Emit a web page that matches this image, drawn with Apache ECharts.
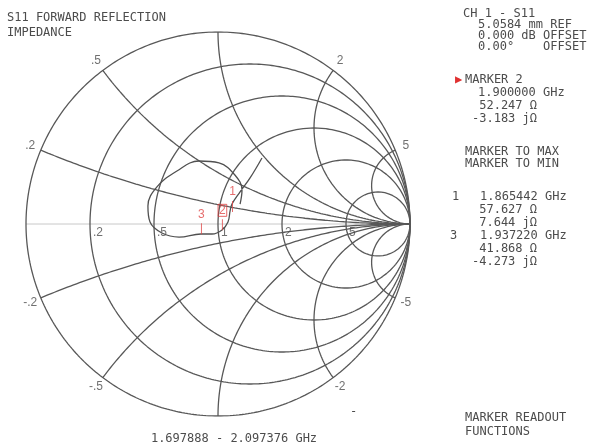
<!DOCTYPE html>
<html><head><meta charset="utf-8">
<script src="https://cdn.jsdelivr.net/npm/echarts@6/dist/echarts.min.js"></script>
<style>html,body{margin:0;padding:0;background:#fff}#c{width:593px;height:448px}</style>
</head><body><div id="c"></div>
<script>
// ---- Smith chart grid values ----
const resistanceValues = [0, 0.2, 0.5, 1, 2, 5];
const reactanceValues = [0.2, 0.5, 1, 2, 5, -0.2, -0.5, -1, -2, -5];
const resistanceLabels = ['.2', '.5', '1', '2', '5'];
const reactanceLabels = ['.2', '.5', '1', '2', '5', '-.2', '-.5', '-1', '-2', '-5'];
const traceRe = [0.229, 0.167, 0.115, 0.073, 0.063, 0.052, 0.021, -0.031, -0.089, -0.203, -0.292, -0.354, -0.365, -0.318, -0.214, -0.099, 0.005, 0.088, 0.125, 0.115];
const traceIm = [0.344, 0.240, 0.167, 0.104, 0.068, 0.010, -0.031, -0.052, -0.052, -0.068, -0.047, 0.010, 0.094, 0.193, 0.276, 0.328, 0.318, 0.255, 0.177, 0.104];
// ---- markers (ohms, Z0 = 50) ----
const markerNames = ['1', '2', '3'];
const markerFreq = ['1.865442 GHz', '1.900000 GHz', '1.937220 GHz'];
const markerR = [57.627, 52.247, 41.868];
const markerX = [7.644, -3.183, -4.273];
// ---- text ----
const titleLines = ['S11 FORWARD REFLECTION', 'IMPEDANCE'];
const sweepLabel = '1.697888 - 2.097376 GHz';
const chLines = ['CH 1 - S11', '5.0584 mm REF', '0.000 dB OFFSET', '0.00\u00b0    OFFSET'];
const activeMarker = 'MARKER 2';
const markerFnLines = ['MARKER TO MAX', 'MARKER TO MIN'];
const footLines = ['MARKER READOUT', 'FUNCTIONS'];

function gamma(r, x) { // z -> Γ
  const dr = (r + 1) * (r + 1) + x * x;
  return [((r * r + x * x) - 1) / dr, (2 * x) / dr];
}
function constR(r) {
  const pts = [];
  for (let i = 0; i <= 400; i++) {
    const s = -Math.PI / 2 + Math.PI * i / 400;
    const x = Math.abs(Math.cos(s)) < 1e-9 ? (s > 0 ? 1e9 : -1e9) : Math.tan(s);
    pts.push(gamma(r, x));
  }
  return pts;
}
function constX(x) {
  const pts = [];
  for (let i = 0; i <= 300; i++) {
    const s = (Math.PI / 2) * i / 300;
    const r = i === 300 ? 1e9 : Math.tan(s);
    pts.push(gamma(r, x));
  }
  return pts;
}
const gridCol = '#585858';
const series = [];
resistanceValues.forEach(r => series.push({type: 'line', data: constR(r), showSymbol: false, silent: true,
  lineStyle: {color: gridCol, width: 1.3}, z: 2}));
reactanceValues.forEach(x => series.push({type: 'line', data: constX(x), showSymbol: false, silent: true,
  lineStyle: {color: gridCol, width: 1.3}, z: 2}));
// real axis
series.push({type: 'line', data: [[-1, 0], [1, 0]], showSymbol: false, silent: true,
  lineStyle: {color: '#c8c8c8', width: 1}, z: 1});
// trace
series.push({type: 'line', data: traceRe.map((v, i) => [v, traceIm[i]]), showSymbol: false, smooth: 0.4,
  silent: true, lineStyle: {color: '#505050', width: 1.3}, z: 3});
const font = '12px "DejaVu Sans Mono", monospace';
const txtCol = '#4c4c4c';
// grid labels
const labelData = [];
resistanceValues.slice(1).forEach((r, i) => {
  labelData.push({value: [(r - 1) / (r + 1), 0], label: {formatter: resistanceLabels[i], align: 'left', offset: [3, 9]}});
});
reactanceValues.forEach((x, i) => {
  const g = gamma(0, x);
  labelData.push({value: [g[0] * 1.06, g[1] * 1.06], label: {formatter: reactanceLabels[i], align: 'center'}});
});
labelData.push({value: [-1.045, 0], label: {formatter: '0', align: 'center'}});
labelData.push({value: [1.045, 0], label: {formatter: '\u221e', align: 'center'}});
series.push({type: 'scatter', data: labelData, symbolSize: 0, silent: true, z: 4,
  label: {show: true, position: 'inside', verticalAlign: 'middle', font: font, color: txtCol}});
// markers
const mData = markerNames.map((n, i) => {
  const g = gamma(markerR[i] / 50, markerX[i] / 50);
  return {value: g, name: n, label: n === '2' ? {borderColor: '#e04040', borderWidth: 1, padding: [0, 1]} : {}};
});
series.push({type: 'scatter', data: mData, symbol: 'rect', symbolSize: [1, 11], symbolOffset: [0, -5],
  itemStyle: {color: '#e04848'}, silent: true, z: 5,
  label: {show: true, position: 'top', distance: 3, formatter: '{b}', font: '11px "DejaVu Sans Mono", monospace', color: '#e04848'}});

const chart = echarts.init(document.getElementById('c'), null, {renderer: 'canvas'});
const g = [];
function t(text, x, y, color, align) {
  g.push({type: 'text', x: x, y: y, silent: true,
    style: {text: text, font: font, fill: color || txtCol, textAlign: align || 'left', textVerticalAlign: 'middle'}});
}
t(titleLines[0], 7, 18); t(titleLines[1], 7, 33);
t(sweepLabel, 234, 439, null, 'center');
t('-', 350, 412);
t(chLines[0], 463, 14); t(chLines[1], 478, 25); t(chLines[2], 478, 36); t(chLines[3], 478, 47);
t('\u25b6', 455, 80, '#e03030'); t(activeMarker, 465, 80);
t(markerFreq[1], 478, 93);
t(markerR[1].toFixed(3) + ' \u03a9', 537, 106, null, 'right');
t(markerX[1].toFixed(3) + ' j\u03a9', 537, 119, null, 'right');
t(markerFnLines[0], 465, 152); t(markerFnLines[1], 465, 164);
t(markerNames[0], 452, 197); t(markerFreq[0], 480, 197);
t(markerR[0].toFixed(3) + ' \u03a9', 537, 210, null, 'right');
t(markerX[0].toFixed(3) + ' j\u03a9', 537, 223, null, 'right');
t(markerNames[2], 450, 236); t(markerFreq[2], 480, 236);
t(markerR[2].toFixed(3) + ' \u03a9', 537, 249, null, 'right');
t(markerX[2].toFixed(3) + ' j\u03a9', 537, 262, null, 'right');
t(footLines[0], 465, 418); t(footLines[1], 465, 432);

chart.setOption({
  animation: false,
  grid: {left: 26, top: 32, width: 384, height: 384},
  xAxis: {type: 'value', min: -1, max: 1, show: false},
  yAxis: {type: 'value', min: -1, max: 1, show: false},
  series: series,
  graphic: g
});
</script></body></html>
